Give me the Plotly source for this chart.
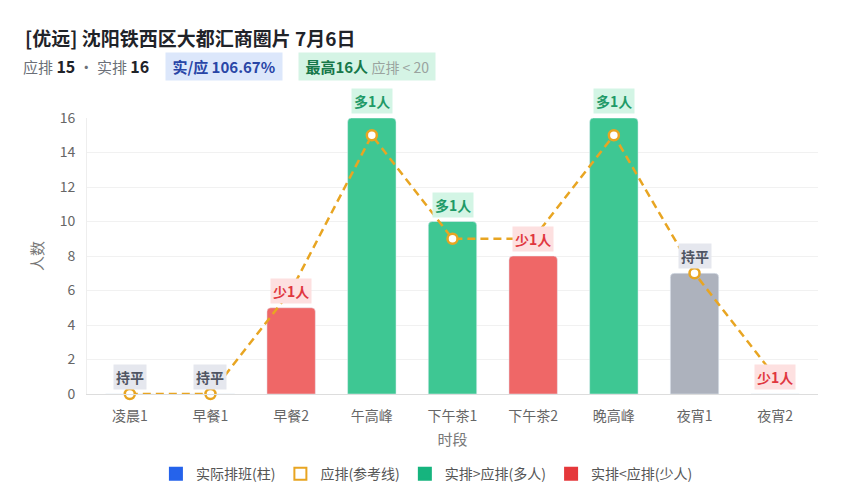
import plotly.graph_objects as go

# data
categories = ["凌晨1", "早餐1", "早餐2", "午高峰", "下午茶1", "下午茶2", "晚高峰", "夜宵1", "夜宵2"]
plan = [0, 0, 6, 15, 9, 9, 15, 7, 1]      # 应排
actual = [0, 0, 5, 16, 10, 8, 16, 7, 0]   # 实排
y_ticks = [0, 2, 4, 6, 8, 10, 12, 14, 16]

FONT = "Noto Sans CJK SC"
GREEN = "#3ec793"
RED = "#ef6767"
GRAY = "#adb2bd"
ORANGE = "#e8a522"

bar_colors = []
labels = []
for a, p in zip(actual, plan):
    d = a - p
    if d > 0:
        bar_colors.append(GREEN)
        labels.append(("多%d人" % d, "#1f9a68", "#d3f5e5"))
    elif d < 0:
        bar_colors.append(RED)
        labels.append(("少%d人" % -d, "#e0373f", "#fde0e0"))
    else:
        bar_colors.append(GRAY)
        labels.append(("持平", "#4f5563", "#e5e7ee"))

fig = go.Figure()

# bars
fig.add_trace(go.Bar(x=categories, y=actual, marker=dict(color=bar_colors, cornerradius=4),
                     width=0.6, showlegend=False, hoverinfo="x+y"))

# plan line
fig.add_trace(go.Scatter(x=categories, y=plan, mode="lines+markers", showlegend=False,
                         line=dict(color=ORANGE, width=2.5, dash="8px,5px"),
                         marker=dict(size=10, color="white", line=dict(color=ORANGE, width=2.5)),
                         cliponaxis=False))

# legend-only entries
legend_items = [("实际排班(柱)", "square", "#2563eb", "#2563eb"),
                ("应排(参考线)", "square-open", ORANGE, ORANGE),
                ("实排>应排(多人)", "square", "#16b47e", "#16b47e"),
                ("实排<应排(少人)", "square", "#e5383b", "#e5383b")]
for name, sym, c, lc in legend_items:
    fig.add_trace(go.Scatter(x=[None], y=[None], mode="markers", name=name,
                             marker=dict(symbol=sym, size=12, color=c, line=dict(color=lc, width=2))))

# labels above bars
for cat, a, (txt, fc, bg) in zip(categories, actual, labels):
    fig.add_annotation(x=cat, y=a, text="<b>%s</b>" % txt, showarrow=False, yshift=17,
                       font=dict(family=FONT, size=14, color=fc), bgcolor=bg, borderpad=2)

# header
fig.add_annotation(xref="paper", yref="paper", x=-0.088, y=1.29, xanchor="left", yanchor="middle",
                   text="<b>[优远] 沈阳铁西区大都汇商圈片 7月6日</b>", showarrow=False,
                   font=dict(family=FONT, size=19, color="#1f2329"))
fig.add_annotation(xref="paper", yref="paper", x=-0.09, y=1.188, xanchor="left", yanchor="middle",
                   text="应排 <span style='color:#1f2329;font-size:16px'><b>%d</b></span> · 实排 "
                        "<span style='color:#1f2329;font-size:16px'><b>%d</b></span>" % (max(plan), max(actual)),
                   showarrow=False, font=dict(family=FONT, size=15, color="#6b6f78"))
ratio = max(actual) / max(plan) * 100
fig.add_annotation(xref="paper", yref="paper", x=0.1067, y=1.188, xanchor="left", yanchor="middle",
                   text="&nbsp;<b>实/应 %.2f%%</b>&nbsp;" % ratio, showarrow=False, bgcolor="#dce7fb",
                   borderpad=3, font=dict(family=FONT, size=15, color="#2845a6"))
fig.add_annotation(xref="paper", yref="paper", x=0.2886, y=1.188, xanchor="left", yanchor="middle",
                   text="&nbsp;<b>最高%d人</b> <span style='color:#9aa39f;font-size:14px'>应排 &lt; 20</span>&nbsp;" % max(actual),
                   showarrow=False, bgcolor="#d5f4e5", borderpad=3,
                   font=dict(family=FONT, size=15, color="#17784a"))

fig.update_layout(
    width=850, height=500,
    margin=dict(l=79, r=40, t=110, b=114),
    paper_bgcolor="white", plot_bgcolor="white",
    font=dict(family=FONT, size=14, color="#666"),
    legend=dict(orientation="h", x=0.465, xanchor="center", y=-0.29, yanchor="middle",
                font=dict(family=FONT, size=14, color="#555"), itemsizing="constant"),
)
fig.update_xaxes(title=dict(text="时段", font=dict(size=15, color="#777"), standoff=10),
                 showline=True, linecolor="#ddd", tickfont=dict(size=14, color="#666"),
                 ticks="outside", ticklen=9, tickcolor="rgba(0,0,0,0)", showgrid=False)
fig.update_yaxes(title=dict(text="人数", font=dict(size=15, color="#777"), standoff=12),
                 range=[0, 16], tickvals=y_ticks, gridcolor="#f1f1f1", zeroline=False,
                 ticks="outside", ticklen=8, tickcolor="rgba(0,0,0,0)",
                 showline=True, linecolor="#eee", tickfont=dict(size=14, color="#666"))

fig.write_html("out.html")
